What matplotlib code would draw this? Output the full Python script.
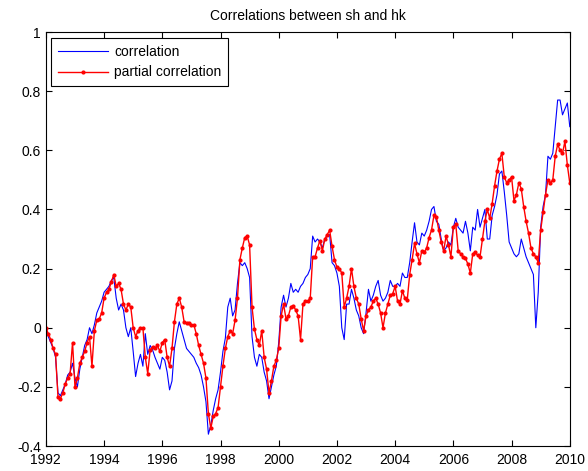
import numpy as np
import matplotlib
matplotlib.use('Agg')
import matplotlib.pyplot as plt
from matplotlib.ticker import FormatStrFormatter

plt.rcParams['font.family'] = ['Liberation Sans', 'DejaVu Sans']

# monthly samples from Jan 1992 to Jan 2010
start_year = 1992
corr = [
    0.0, -0.03, -0.05, -0.07, -0.1, -0.22, -0.23, -0.21, -0.19, -0.16, -0.15, -0.12,
    -0.17, -0.2, -0.14, -0.1, -0.06, -0.04, 0.0, -0.02, 0.01, 0.05, 0.07, 0.09,
    0.12, 0.13, 0.14, 0.16, 0.17, 0.1, 0.06, 0.08, 0.06, 0.0, -0.03, 0.0,
    -0.08, -0.165, -0.12, -0.09, -0.13, -0.02, -0.09, -0.06, -0.075, -0.1, -0.12, -0.14,
    -0.1, -0.11, -0.15, -0.21, -0.18, -0.07, -0.02, 0.02, -0.01, -0.04, -0.07, -0.08,
    -0.09, -0.1, -0.12, -0.135, -0.16, -0.2, -0.25, -0.36, -0.33, -0.28, -0.24, -0.21,
    -0.15, -0.08, -0.035, 0.07, 0.1, 0.04, 0.06, 0.15, 0.22, 0.21, 0.22, 0.2,
    0.17, -0.03, -0.1, -0.13, -0.09, -0.1, -0.15, -0.18, -0.24, -0.2, -0.16, -0.13,
    -0.05, 0.07, 0.11, 0.07, 0.1, 0.15, 0.12, 0.13, 0.12, 0.14, 0.15, 0.17,
    0.18, 0.2, 0.31, 0.29, 0.3, 0.29, 0.27, 0.3, 0.31, 0.315, 0.22, 0.21,
    0.185, 0.14, 0.0, -0.04, 0.08, 0.08, 0.13, 0.1, 0.06, 0.04, 0.0, -0.02,
    0.05, 0.13, 0.09, 0.11, 0.14, 0.16, 0.11, 0.09, 0.1, 0.12, 0.16, 0.14,
    0.14, 0.15, 0.14, 0.185, 0.17, 0.17, 0.22, 0.29, 0.355, 0.29, 0.28, 0.32,
    0.31, 0.33, 0.36, 0.4, 0.41, 0.36, 0.35, 0.3, 0.26, 0.27, 0.29, 0.28,
    0.34, 0.37, 0.34, 0.33, 0.32, 0.36, 0.32, 0.26, 0.34, 0.33, 0.4, 0.34,
    0.37, 0.4, 0.3, 0.3, 0.38, 0.41, 0.45, 0.52, 0.53, 0.46, 0.38, 0.29,
    0.27, 0.25, 0.24, 0.25, 0.3, 0.27, 0.24, 0.22, 0.2, 0.18, 0.0, 0.12,
    0.34, 0.41, 0.45, 0.58, 0.57, 0.59, 0.68, 0.77, 0.77, 0.72, 0.74, 0.76,
    0.68,
]
pcorr = [
    0.0, -0.02, -0.04, -0.07, -0.09, -0.235, -0.24, -0.22, -0.19, -0.17, -0.155, -0.05,
    -0.2, -0.17, -0.12, -0.1, -0.08, -0.05, -0.03, -0.13, -0.01, 0.025, 0.03, 0.05,
    0.1, 0.12, 0.13, 0.155, 0.18, 0.14, 0.15, 0.13, 0.08, 0.06, 0.08, 0.07,
    0.0, -0.03, -0.01, 0.0, 0.0, -0.1, -0.155, -0.075, -0.065, -0.07, -0.06, -0.08,
    -0.05, -0.04, -0.1, -0.13, -0.07, 0.02, 0.08, 0.1, 0.07, 0.02, 0.015, 0.015,
    0.01, 0.01, -0.02, -0.06, -0.09, -0.12, -0.17, -0.29, -0.34, -0.3, -0.29, -0.27,
    -0.2, -0.13, -0.07, -0.03, -0.01, -0.02, 0.025, 0.1, 0.23, 0.27, 0.305, 0.31,
    0.28, 0.07, -0.005, -0.04, -0.06, -0.01, -0.1, -0.14, -0.22, -0.18, -0.13, -0.11,
    -0.07, 0.04, 0.08, 0.03, 0.04, 0.07, 0.075, 0.06, 0.04, -0.04, 0.08, 0.09,
    0.09, 0.1, 0.24, 0.24, 0.27, 0.295, 0.26, 0.3, 0.315, 0.33, 0.275, 0.23,
    0.205, 0.2, 0.185, 0.07, 0.1, 0.14, 0.2, 0.14, 0.1, 0.08, 0.03, -0.01,
    0.04, 0.06, 0.07, 0.09, 0.1, 0.08, 0.05, 0.0, 0.05, 0.08, 0.11, 0.115,
    0.14, 0.09, 0.08, 0.125, 0.1, 0.095, 0.18, 0.23, 0.285, 0.25, 0.22, 0.26,
    0.255, 0.27, 0.305, 0.33, 0.38, 0.375, 0.33, 0.29, 0.26, 0.31, 0.28, 0.24,
    0.34, 0.35, 0.26, 0.25, 0.24, 0.235, 0.215, 0.185, 0.25, 0.255, 0.245, 0.24,
    0.3, 0.36, 0.4, 0.37, 0.42, 0.48, 0.53, 0.57, 0.59, 0.51, 0.49, 0.5,
    0.51, 0.43, 0.45, 0.49, 0.47, 0.41, 0.36, 0.32, 0.27, 0.25, 0.24, 0.22,
    0.33, 0.39, 0.45, 0.5, 0.49, 0.5, 0.58, 0.62, 0.6, 0.59, 0.63, 0.55,
    0.49,
]
years = start_year + np.arange(len(corr)) / 12.0

fig = plt.figure(figsize=(5.88, 4.71), dpi=100)
ax = fig.add_axes([0.078, 0.053, 0.891, 0.879])

ax.plot(years, corr, color='blue', lw=0.8, label='correlation')
ax.plot(years, pcorr, color='red', lw=1.0, marker='.', markersize=4,
        label='partial correlation')

ax.set_xlim(1992, 2010)
ax.set_ylim(-0.4, 1)
ax.set_xticks(np.arange(1992, 2011, 2))
ax.set_yticks(np.arange(-0.4, 1.01, 0.2))
ax.yaxis.set_major_formatter(FormatStrFormatter('%g'))
ax.tick_params(direction='in', top=True, right=True, length=4, labelsize=10)
ax.tick_params(axis='x', pad=5)
for s in ax.spines.values():
    s.set_linewidth(0.8)

ax.set_title('Correlations between sh and hk', fontsize=10, pad=9)
leg = ax.legend(loc='upper left', numpoints=1, handlelength=3.6,
                handletextpad=0.4, borderpad=0.5, fontsize=10,
                fancybox=False, framealpha=1, edgecolor='black',
                borderaxespad=0.4)
leg.get_frame().set_linewidth(0.8)

fig.savefig('out.png', dpi=100)
